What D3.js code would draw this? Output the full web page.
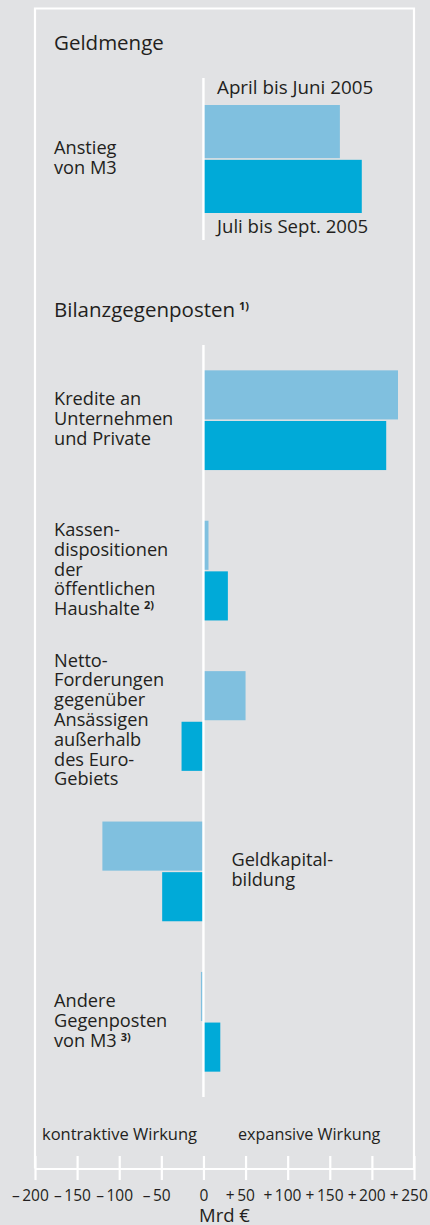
<!DOCTYPE html>
<html>
<head>
<meta charset="UTF-8">
<title>Geldmenge und Bilanzgegenposten</title>
<style>
  body { margin: 0; background: #e1e2e4; }
  svg { display: block; }
  text { font-family: "Open Sans", sans-serif; fill: #231f20; }
</style>
</head>
<body>
<svg id="chart"></svg>
<script src="https://d3js.org/d3.v7.min.js"></script>
<script>
// Daten (Mrd €)
var seriesNames = ["April bis Juni 2005", "Juli bis Sept. 2005"];

var geldCats = ["Anstieg von M3"];
var geldLines = [["Anstieg", "von M3"]];
var geldApr = [162];
var geldJul = [188];

var bilanzCats = ["Kredite", "Kassen", "Netto", "Geldkapital", "Andere"];
var bilanzLines = [
  ["Kredite an", "Unternehmen", "und Private"],
  ["Kassen-", "dispositionen", "der", "öffentlichen", "Haushalte"],
  ["Netto-", "Forderungen", "gegenüber", "Ansässigen", "außerhalb", "des Euro-", "Gebiets"],
  ["Geldkapital-", "bildung"],
  ["Andere", "Gegenposten", "von M3"]
];
var bilanzNotes = ["", "2)", "", "", "3)"];
var bilanzApr = [231, 6, 50, -120, -3];
var bilanzJul = [217, 29, -26, -49, 20];

var tickValues = [-200, -150, -100, -50, 0, 50, 100, 150, 200, 250];

var colors = ["#80c0df", "#00aad8"];

var W = 430, H = 1225;
var svg = d3.select("#chart").attr("width", W).attr("height", H);
svg.append("rect").attr("width", W).attr("height", H).attr("fill", "#e1e2e4");

var axisY = 1168.5;
var x = d3.scaleLinear().domain([-200, 250]).range([35, 414]);

// Rahmen
svg.append("path")
  .attr("d", "M35," + axisY + "V8.5H414V" + axisY)
  .attr("fill", "none").attr("stroke", "#fff").attr("stroke-width", 2.2);

// Skalen für die beiden Abschnitte
var yGeld = d3.scaleBand().domain(geldCats).range([78, 240]).paddingInner(0).paddingOuter(0.25);
var yBil = d3.scaleBand().domain(bilanzCats).range([345, 1097]).paddingInner(0.337).paddingOuter(0.1685);
var sub = d3.scaleBand().domain(seriesNames).paddingInner(0.03);

function drawSection(yScale, cats, apr, jul, lines, notes) {
  var rows = cats.map(function(c, i) {
    return {cat: c, vals: [apr[i], jul[i]], lines: lines[i], note: notes ? notes[i] : ""};
  });
  var s = sub.copy().range([0, yScale.bandwidth()]);
  var g = svg.selectAll(null).data(rows).enter().append("g")
    .attr("transform", function(d) { return "translate(0," + yScale(d.cat) + ")"; });

  g.selectAll("rect")
    .data(function(d) { return d.vals.map(function(v, j) { return {v: v, s: seriesNames[j], j: j}; }); })
    .enter().append("rect")
    .attr("x", function(d) { return x(Math.min(0, d.v)); })
    .attr("width", function(d) { return Math.abs(x(d.v) - x(0)); })
    .attr("y", function(d) { return s(d.s); })
    .attr("height", s.bandwidth())
    .attr("fill", function(d) { return colors[d.j]; });

  // mehrzeilige Beschriftung, bei rein negativen Werten rechts der Nulllinie
  var lh = 19.8;
  g.each(function(d) {
    var allNeg = d.vals[0] < 0 && d.vals[1] < 0;
    var lx = allNeg ? x(0) + 28 : 54;
    var c = yScale.bandwidth() / 2 - 1.5;
    var t = d3.select(this).append("text").attr("font-size", 18.2);
    d.lines.forEach(function(l, k) {
      t.append("tspan")
        .attr("x", lx)
        .attr("y", c + (k - (d.lines.length - 1) / 2) * lh + 6.5)
        .text(l);
      if (k === d.lines.length - 1 && d.note) {
        t.append("tspan").attr("dx", 4).attr("dy", -6).attr("font-size", 11)
          .attr("font-weight", "bold").text(d.note);
      }
    });
  });

  // Nulllinie
  svg.append("line")
    .attr("x1", x(0)).attr("x2", x(0))
    .attr("y1", yScale.range()[0]).attr("y2", yScale.range()[1])
    .attr("stroke", "#fff").attr("stroke-width", 2.4);
}

drawSection(yGeld, geldCats, geldApr, geldJul, geldLines, null);
drawSection(yBil, bilanzCats, bilanzApr, bilanzJul, bilanzLines, bilanzNotes);

// Überschriften
svg.append("text").attr("x", 54).attr("y", 50).attr("font-size", 20.5).text("Geldmenge");
var bt = svg.append("text").attr("x", 54).attr("y", 317).attr("font-size", 20.5);
bt.append("tspan").text("Bilanzgegenposten");
bt.append("tspan").attr("dx", 4).attr("dy", -7).attr("font-size", 11).attr("font-weight", "bold").text("1)");

// Reihenbeschriftungen
svg.append("text").attr("x", 217).attr("y", 94).attr("font-size", 18.8).text(seriesNames[0]);
svg.append("text").attr("x", 217).attr("y", 233).attr("font-size", 18.6).text(seriesNames[1]);

// Wirkung
svg.append("text").attr("x", 42).attr("y", 1139.5).attr("font-size", 16.5).text("kontraktive Wirkung");
svg.append("text").attr("x", 238).attr("y", 1139.5).attr("font-size", 16.2).text("expansive Wirkung");

// X-Achse: Ziffern mittig auf dem Tick, Vorzeichen links davor
var ax = svg.append("g")
  .attr("transform", "translate(0," + axisY + ")")
  .call(d3.axisBottom(x).tickValues(tickValues)
    .tickFormat(function(d) { return Math.abs(d); })
    .tickSizeInner(11.5).tickSizeOuter(0).tickPadding(9.5));
ax.select(".domain").attr("stroke", "#fff").attr("stroke-width", 2.2);
ax.selectAll(".tick line").attr("y1", -12.5).attr("stroke", "#fff").attr("stroke-width", 2.2);
ax.selectAll(".tick text")
  .attr("font-family", "\"Open Sans\", sans-serif").attr("font-size", 15.5).attr("fill", "#231f20");
ax.selectAll(".tick").each(function(d) {
  if (d === 0) return;
  var lbl = d3.select(this).select("text");
  var digits = String(Math.abs(d));
  var w = lbl.node().getComputedTextLength();
  lbl.text(null).attr("text-anchor", "start");
  var sign = lbl.append("tspan").text(d > 0 ? "+" : "\u2013");
  var sw = sign.node().getComputedTextLength();
  lbl.attr("x", -w / 2 - 2.5 - sw);
  lbl.append("tspan").attr("dx", 2.5).text(digits);
});

svg.append("text").attr("x", (x.range()[0] + x.range()[1]) / 2).attr("y", 1221.5)
  .attr("text-anchor", "middle").attr("font-size", 18.5).text("Mrd €");
</script>
</body>
</html>
